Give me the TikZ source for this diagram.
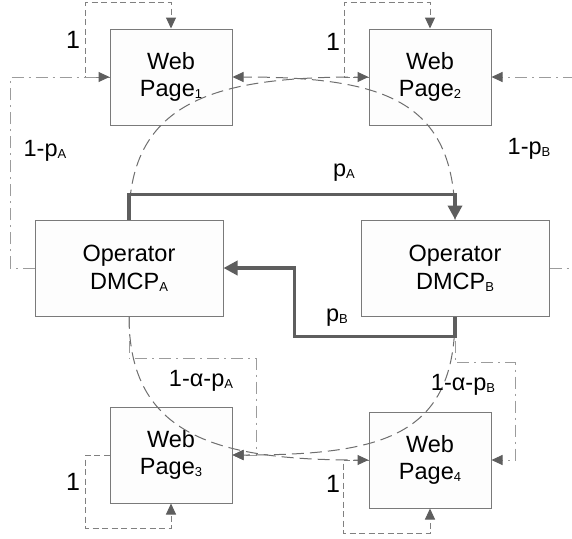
\documentclass[tikz,border=0pt]{standalone}
\usepackage{fontspec}
\setmainfont{Liberation Sans}
\usetikzlibrary{arrows.meta,calc}

\definecolor{boxline}{HTML}{7A7A7A}
\definecolor{boxfill}{HTML}{FDFDFD}
\definecolor{tipgray}{HTML}{5E5E5E}
\definecolor{arcgray}{HTML}{6E6E6E}
\definecolor{loopgray}{HTML}{808080}
\definecolor{dotgray}{HTML}{9C9C9C}

% small lowered index, as used in all labels
\newcommand{\ix}[1]{\raisebox{-2pt}{\fontsize{13}{13}\selectfont #1}}

\tikzset{
  pagebox/.style={draw=boxline, fill=boxfill, line width=1pt, rectangle,
    minimum width=122pt, minimum height=96pt, inner sep=0pt, align=center,
    font=\fontsize{23.5}{27.8}\selectfont},
  opbox/.style={pagebox, minimum width=188pt},
  lbl/.style={font=\fontsize{23.5}{27}\selectfont, inner sep=0pt},
  onelbl/.style={font=\fontsize{25}{30}\selectfont, inner sep=0pt},
  tip/.style={-{Triangle[length=11pt,width=10pt,color=tipgray]}},
  bigtip/.style={-{Triangle[length=14pt,width=14pt,color=tipgray]}},
  heavy/.style={draw=tipgray, line width=3.6pt, bigtip},
  arcline/.style={draw=arcgray, line width=1pt, dash pattern=on 12pt off 6pt, tip},
  selfloop/.style={draw=loopgray, line width=1pt, dash pattern=on 6pt off 3.5pt, tip},
  dashdotline/.style={draw=dotgray, line width=1pt, dash pattern=on 12pt off 5pt on 2pt off 5pt, tip},
}

\begin{document}
\begin{tikzpicture}[x=1pt, y=-1pt]
\useasboundingbox (0,0) rectangle (572,538);
\clip (0,0) rectangle (572,538);

% pages and operators
\node[pagebox] (wp1) at (171,77)  {Web\\Page\ix{1}};
\node[pagebox] (wp2) at (430,77)  {Web\\Page\ix{2}};
\node[opbox]   (opA) at (129,268) {Operator\\DMCP\ix{A}};
\node[opbox]   (opB) at (455,268) {Operator\\DMCP\ix{B}};
\node[pagebox] (wp3) at (171,455) {Web\\Page\ix{3}};
\node[pagebox] (wp4) at (430,460) {Web\\Page\ix{4}};

% self loops of the pages
\draw[selfloop] (wp1.west) -- ++(-24,0) |- ($(wp1.north)+(0,-26)$) -- (wp1.north);
\draw[selfloop] (wp2.west) -- ++(-24,0) |- ($(wp2.north)+(0,-26)$) -- (wp2.north);
\draw[selfloop] (wp3.west) -- ++(-24,0) |- ($(wp3.south)+(0,25)$) -- (wp3.south);
\draw[selfloop] (wp4.west) -- ++(-25,0) |- ($(wp4.south)+(0,25)$) -- (wp4.south);

% operator to own pages
\draw[dashdotline] (opA.west) -- ++(-24,0) |- (wp1.west);
\draw[dashdotline] (opB.east) -- ++(25,0) |- (wp2.east);
\draw[dashdotline] (opA.south) |- ++(127,42) |- (wp3.east);
\draw[dashdotline] (opB.south) |- ++(60,46) |- (wp4.east);

% crossing curves to the other operator's pages
\draw[arcline] (opA.north) .. controls +(0,-120) and +(-150,0) .. (wp2.west);
\draw[arcline] (opB.north) .. controls +(0,-120) and +(150,0) .. (wp1.east);
\draw[arcline] (opA.south) .. controls +(0,120) and +(-150,0) .. (wp4.west);
\draw[arcline] (opB.south) .. controls +(0,120) and +(150,0) .. (wp3.east);

% transfers between the operators
\draw[heavy] (opA.north) -- ++(0,-25) -| (opB.north);
\draw[heavy] (opB.south) -- ++(0,20) -| ($(opA.east)+(71,0)$) -- (opA.east);

% labels
\node[onelbl] (l1) at (73,40)  {1};
\node[onelbl] (l2) at (333,42) {1};
\node[onelbl] (l3) at (73,482) {1};
\node[onelbl] (l4) at (333,484) {1};
\node[lbl] (qa) at (45,151)  {1-p\ix{A}};
\node[lbl] (qb) at (529,149) {1-p\ix{B}};
\node[lbl] (pa) at (344,173) {p\ix{A}};
\node[lbl] (pb) at (337,318) {p\ix{B}};
\node[lbl] (ra) at (201,381) {1-α-p\ix{A}};
\node[lbl] (rb) at (463,385) {1-α-p\ix{B}};
\end{tikzpicture}
\end{document}
